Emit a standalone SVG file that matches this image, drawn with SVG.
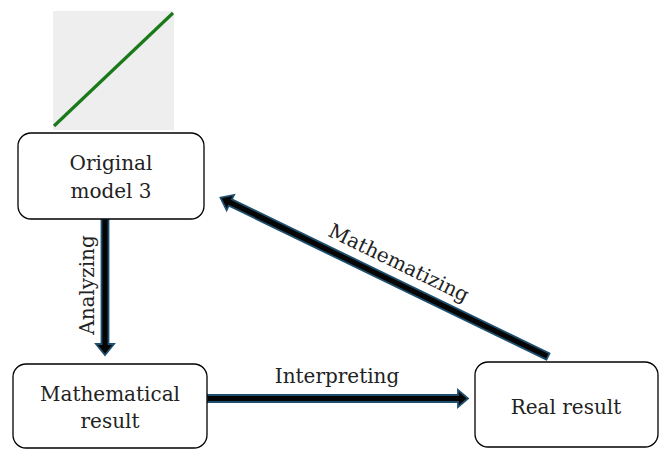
<svg xmlns="http://www.w3.org/2000/svg" width="662" height="450" viewBox="0 0 662 450">
<style>
.box{fill:#fff;stroke:#000;stroke-width:1.3}
.t{font-family:"DejaVu Serif","Liberation Serif",serif;font-size:20px;fill:#222;text-anchor:middle}
.arr{fill:#050505;stroke:#1e4f6e;stroke-width:1.8;stroke-linejoin:miter}
</style>
<g id="picture">
<rect x="53" y="11" width="121" height="119" fill="#eeeeee"/>
<line x1="54" y1="126" x2="173" y2="13" stroke="#1a7a1a" stroke-width="3.2"/>
</g>
<g id="connectors">
<polygon class="arr" points="101.5,219 108.5,219 108.5,344 114,344 105,355 96,344 101.5,344"/>
<polygon class="arr" points="207,395 458,395 458,390 468,398.5 458,407 458,402 207,402"/>
<g transform="translate(548,356.5) rotate(205.86)">
<polygon class="arr" points="0,-3.5 353,-3.5 353,-8.5 364,0 353,8.5 353,3.5 0,3.5"/>
</g>
<text class="t" transform="translate(94,285) rotate(-90)">Analyzing</text>
<text class="t" x="337" y="383">Interpreting</text>
<text class="t" transform="translate(396,269) rotate(25.86)">Mathematizing</text>
</g>
<g id="original">
<rect class="box" x="18" y="133" width="186" height="86" rx="13"/>
<text class="t" x="111" y="170">Original</text>
<text class="t" x="111" y="198">model 3</text>
</g>
<g id="mathresult">
<rect class="box" x="13" y="364" width="194" height="84" rx="13"/>
<text class="t" x="110" y="401">Mathematical</text>
<text class="t" x="110" y="428">result</text>
</g>
<g id="realresult">
<rect class="box" x="475" y="362" width="183" height="85" rx="13"/>
<text class="t" x="566" y="414">Real result</text>
</g>
</svg>
